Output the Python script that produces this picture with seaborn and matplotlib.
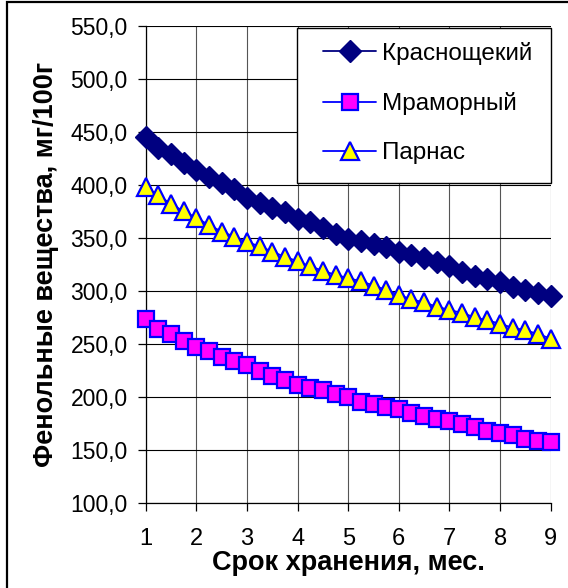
import matplotlib
matplotlib.use("Agg")
import matplotlib.pyplot as plt
from matplotlib.patches import Rectangle
from matplotlib.ticker import FuncFormatter
import seaborn as sns
import pandas as pd

# ---- data ----
months = [1, 1.25, 1.5, 1.75, 2, 2.25, 2.5, 2.75, 3, 3.25, 3.5, 3.75, 4, 4.25, 4.5, 4.75,
          5, 5.25, 5.5, 5.75, 6, 6.25, 6.5, 6.75, 7, 7.25, 7.5, 7.75, 8, 8.25, 8.5, 8.75, 9]
krasnoshchekiy = [445, 435, 429, 421, 414, 407, 402, 396, 388, 383, 378, 374, 368, 365, 359, 354,
                  349, 347, 344, 341, 337, 334, 331, 327, 323, 318, 314, 311, 308, 304, 301, 298, 295]
mramorny = [273, 264, 259, 253, 247, 243, 238, 234, 230, 224, 220, 216, 211, 208, 206, 203,
            200, 195, 193, 190, 188, 185, 182, 179, 177, 174, 171, 168, 166, 164, 160, 158, 157]
parnas = [398, 390, 382, 375, 369, 362, 356, 351, 346, 342, 337, 332, 328, 323, 319, 315,
          312, 309, 305, 301, 296, 292, 289, 285, 282, 279, 275, 272, 269, 265, 263, 259, 255]
series_names = ["Краснощекий", "Мраморный", "Парнас"]
x_label = "Срок хранения, мес."
y_label = "Фенольные вещества, мг/100г"
x_ticks = [1, 2, 3, 4, 5, 6, 7, 8, 9]
y_ticks = [100, 150, 200, 250, 300, 350, 400, 450, 500, 550]

df = pd.DataFrame({"month": months, series_names[0]: krasnoshchekiy,
                   series_names[1]: mramorny, series_names[2]: parnas})

sns.set_style("white")
plt.rcParams["font.family"] = ["Liberation Sans", "DejaVu Sans"]

W, H = 568, 588
fig = plt.figure(figsize=(W / 100, H / 100), dpi=100)
ax_l, ax_r, ax_t, ax_b = 145.7, 550.7, 26.0, 502.7
ax = fig.add_axes([ax_l / W, 1 - ax_b / H, (ax_r - ax_l) / W, (ax_b - ax_t) / H])

styles = [
    dict(color="#000080", marker="D", markersize=11.5, markerfacecolor="#000080",
         markeredgecolor="#000080", markeredgewidth=1.0),
    dict(color="#0000FF", marker="s", markersize=12.0, markerfacecolor="#FF00FF",
         markeredgecolor="#0000FF", markeredgewidth=1.6),
    dict(color="#0000FF", marker="^", markersize=13.5, markerfacecolor="#FFFF00",
         markeredgecolor="#0000FF", markeredgewidth=1.6),
]
for name, st in zip(series_names, styles):
    sns.lineplot(data=df, x="month", y=name, ax=ax, label=name, linewidth=1.3,
                 zorder=3, clip_on=False, **st)

ax.set_xlim(1, 9)
ax.set_ylim(100, 550)
ax.set_xticks(x_ticks)
ax.set_yticks(y_ticks)
ax.yaxis.set_major_formatter(FuncFormatter(lambda v, p: f"{v:.1f}".replace(".", ",")))
ax.xaxis.set_major_formatter(FuncFormatter(lambda v, p: f"{int(v)}"))

ax.grid(True, axis="y", color="black", linewidth=0.8)
ax.grid(True, axis="x", color="#555555", linewidth=0.8)
ax.set_axisbelow(True)
for s in ["top", "right"]:
    ax.spines[s].set_visible(False)
for s in ["left", "bottom"]:
    ax.spines[s].set_color("black")
    ax.spines[s].set_linewidth(0.9)

ax.tick_params(axis="y", direction="out", length=6, width=0.9, color="black",
               labelsize=16.5, pad=7, labelcolor="black", left=True)
ax.tick_params(axis="x", direction="out", length=6, width=0.9, color="black",
               labelsize=17, pad=12, labelcolor="black", bottom=True)

ax.set_xlabel(x_label, fontsize=19.5, fontweight="bold", color="black")
ax.xaxis.set_label_coords(0.5, (ax_b - 570) / (ax_b - ax_t))
ax.xaxis.label.set_va("baseline")
ax.set_ylabel(y_label, fontsize=19.5, fontweight="bold", color="black")
ax.yaxis.set_label_coords((52.7 - ax_l) / (ax_r - ax_l), 0.5)
ax.yaxis.label.set_va("baseline")
ax.yaxis.label.set_rotation_mode("anchor")

# legend with its frame
leg = ax.legend(loc="upper left", bbox_to_anchor=(323 / W, 1 - 42 / H),
                bbox_transform=fig.transFigure, frameon=False, borderpad=0,
                borderaxespad=0, fontsize=17.5, handlelength=2.2, handletextpad=0.24,
                labelspacing=1.12)
leg.set_zorder(6)
for t in leg.get_texts():
    t.set_color("black")
lx0, ly0, lx1, ly1 = 296.7, 28.3, 550.7, 182.7
frame = Rectangle((lx0 / W, 1 - ly1 / H), (lx1 - lx0) / W, (ly1 - ly0) / H,
                  transform=fig.transFigure, facecolor="white", edgecolor="black",
                  linewidth=1.0, zorder=5, clip_on=False)
ax.add_patch(frame)

# chart outer border (left and top visible in the crop)
border = Rectangle((6.7 / W, -0.05), 1.2, 1.05 - 1.7 / H, transform=fig.transFigure,
                   fill=False, edgecolor="black", linewidth=1.6, clip_on=False)
fig.patches.append(border)

fig.savefig("out.png", dpi=100, facecolor="white")
